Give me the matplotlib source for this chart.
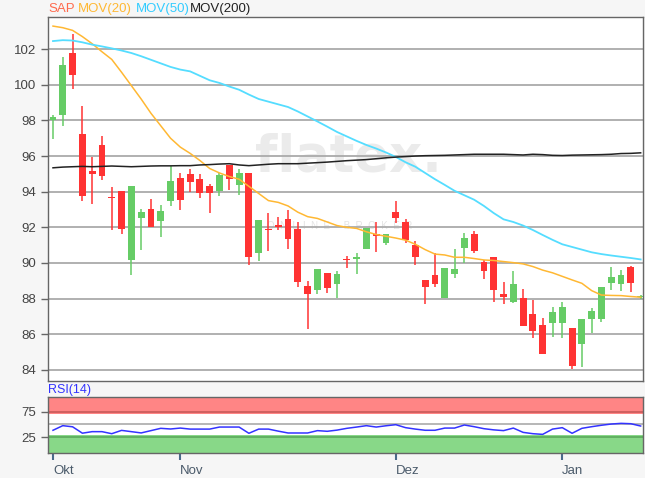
import matplotlib
matplotlib.use('Agg')
import matplotlib.pyplot as plt
import numpy as np

plt.rcParams['font.family'] = ['Liberation Sans', 'DejaVu Sans']

# daily candles (Okt - Jan)
opens = [98.0, 98.28, 101.76, 97.25, 95.14, 96.6, 93.72, 94.02, 90.19, 92.52,
         93.03, 92.34, 93.46, 94.77, 94.99, 94.73, 94.32, 94.04, 95.5, 94.36,
         95.07, 90.54, 91.93, 92.11, 92.45, 91.93, 88.71, 88.49, 89.46, 88.8,
         90.24, 90.21, 90.77, 91.61, 91.1, 92.88, 92.28, 91.01, 89.05, 89.31,
         88.06, 89.36, 90.82, 91.61, 90.07, 90.32, 88.26, 87.83, 88.02, 87.14,
         86.52, 86.62, 86.62, 86.34, 85.46, 86.86, 86.86, 88.9, 88.82, 89.79,
         88.07]
highs = [98.3, 101.55, 102.82, 98.79, 95.93, 97.14, 94.26, 94.02, 94.32, 93.05,
         93.59, 93.27, 95.42, 95.05, 95.27, 94.97, 94.41, 95.07, 95.5, 95.25,
         95.07, 92.39, 92.79, 92.6, 92.97, 92.3, 88.99, 89.64, 89.46, 89.55,
         90.39, 90.54, 91.98, 92.28, 91.65, 93.48, 92.47, 91.23, 89.05, 90.54,
         89.74, 90.79, 91.7, 91.81, 90.17, 90.32, 88.95, 89.55, 88.54, 87.93,
         86.93, 87.51, 87.83, 86.34, 86.84, 87.46, 88.67, 89.79, 89.61, 89.85,
         88.2]
lows = [96.95, 97.7, 99.76, 93.46, 93.33, 94.64, 91.83, 91.64, 89.35, 90.75,
        92.0, 91.46, 93.18, 92.99, 93.98, 93.63, 92.82, 93.76, 94.07, 93.79,
        89.87, 90.13, 90.67, 91.83, 90.8, 88.67, 86.28, 88.24, 88.34, 88.06,
        89.74, 89.36, 90.77, 90.64, 91.0, 92.26, 91.1, 89.89, 87.7, 88.67,
        88.06, 89.14, 89.98, 90.54, 89.08, 87.83, 87.68, 87.74, 86.47, 85.81,
        84.88, 85.87, 85.81, 84.04, 84.19, 86.06, 86.67, 88.49, 88.43, 88.39,
        88.0]
closes = [98.2, 101.12, 100.56, 93.74, 95.0, 94.88, 93.66, 91.91, 94.32, 92.84,
          92.0, 92.9, 94.58, 93.55, 94.54, 93.91, 93.91, 94.92, 94.69, 95.03,
          90.36, 92.39, 91.83, 92.02, 91.33, 88.93, 88.28, 89.64, 88.62, 89.4,
          90.18, 90.32, 91.98, 91.51, 91.61, 92.5, 91.29, 90.36, 88.64, 88.8,
          89.74, 89.66, 91.38, 90.69, 89.55, 88.49, 88.07, 88.8, 86.47, 86.21,
          84.88, 87.23, 87.51, 84.22, 86.84, 87.33, 88.67, 89.2, 89.33, 88.86,
          88.15]

mov20 = [103.29, 103.2, 103.05, 102.7, 102.3, 101.85, 101.42, 100.7, 99.95, 99.2,
         98.4, 97.7, 97.0, 96.5, 96.15, 95.75, 95.3, 95.05, 94.85, 94.7,
         94.3, 93.9, 93.5, 93.4, 93.2, 92.85, 92.6, 92.5, 92.3, 92.1,
         92.0, 91.94, 91.75, 91.6, 91.5, 91.4, 91.28, 91.05, 90.75, 90.5,
         90.45, 90.32, 90.32, 90.25, 90.17, 90.14, 90.08, 90.02, 89.95, 89.8,
         89.6, 89.45, 89.25, 89.05, 88.86, 88.45, 88.2, 88.18, 88.17, 88.12,
         88.08]
mov50 = [102.45, 102.5, 102.48, 102.38, 102.25, 102.15, 102.04, 101.92, 101.78, 101.6,
         101.4, 101.2, 101.0, 100.85, 100.75, 100.5, 100.25, 100.1, 99.9, 99.72,
         99.45, 99.2, 99.05, 98.9, 98.75, 98.5, 98.22, 97.94, 97.65, 97.35,
         97.1, 96.85, 96.62, 96.42, 96.2, 95.95, 95.65, 95.4, 95.05, 94.7,
         94.38, 94.05, 93.8, 93.55, 93.2, 92.8, 92.45, 92.3, 92.1, 91.85,
         91.57, 91.3, 91.05, 90.9, 90.75, 90.6, 90.5, 90.42, 90.35, 90.28,
         90.2]
mov200 = [95.34, 95.38, 95.4, 95.42, 95.4, 95.42, 95.44, 95.42, 95.4, 95.42,
          95.44, 95.45, 95.45, 95.46, 95.46, 95.5, 95.52, 95.55, 95.57, 95.5,
          95.46, 95.5, 95.54, 95.57, 95.57, 95.57, 95.6, 95.63, 95.66, 95.7,
          95.74, 95.77, 95.8, 95.85, 95.9, 95.94, 95.97, 96.0, 96.02, 96.03,
          96.04, 96.06, 96.08, 96.1, 96.1, 96.1, 96.1, 96.08, 96.06, 96.1,
          96.08, 96.04, 96.03, 96.05, 96.06, 96.07, 96.08, 96.1, 96.14, 96.15,
          96.18]
rsi = [38.7, 47.7, 45.5, 33, 36, 36, 32, 38.5, 36, 33.5,
       38, 42.5, 41.2, 43, 41, 41, 41, 45, 45, 45,
       32.8, 41, 41, 37, 33.4, 33.4, 33.4, 38, 36.7, 39,
       42.5, 45, 47.7, 45, 47.5, 49.6, 43.8, 41, 38.7, 38.7,
       43, 43, 49, 45.7, 41.8, 39.5, 38, 43, 34.6, 32,
       30.7, 41, 43.8, 32.8, 42.5, 45.7, 48.5, 50.9, 52.2, 51.5,
       47]

month_pos = [0, 13, 35, 52]
month_labels = ['Okt', 'Nov', 'Dez', 'Jan']
price_ticks = [84, 86, 88, 90, 92, 94, 96, 98, 100, 102]

up_col = '#66cc66'
down_col = '#ff3333'
frame_col = '#666666'
text_col = '#444444'

fig = plt.figure(figsize=(6.45, 4.78), dpi=100, facecolor='#f6f6f6')
ax = fig.add_axes([48 / 645, 1 - 381 / 478, 595 / 645, 364 / 478])
ax_rsi = fig.add_axes([48 / 645, 1 - 453 / 478, 595 / 645, 56 / 478], sharex=ax)

x = np.arange(len(closes))
o = np.array(opens)
c = np.array(closes)
colors = [up_col if cc >= oo else down_col for oo, cc in zip(o, c)]
body_h = np.maximum(np.abs(c - o), 0.07)
body_bottom = np.minimum(o, c)

ax.vlines(x, lows, highs, colors=colors, linewidth=1.1, zorder=3)
ax.bar(x, body_h, bottom=body_bottom, width=0.7, color=colors, zorder=4)

ax.plot(x, mov20, color='#ffb833', linewidth=1.1, zorder=5)
ax.plot(x, mov50, color='#55ddff', linewidth=1.3, zorder=5)
ax.plot(x, mov200, color='#222222', linewidth=1.1, zorder=5)

# watermark
ax.text(0.348, 0.575, 'flatex.', transform=ax.transAxes, fontsize=37,
        fontweight='bold', family='DejaVu Sans', color='#ebebeb', zorder=0.5,
        ha='left', va='baseline')
ax.text(0.368, 0.425, 'O  N  L  I  N  E     B  R  O  K  E  R', transform=ax.transAxes,
        fontsize=7, color='#e4e4e4', zorder=0.5, ha='left', va='center')

ax.set_ylim(83.38, 103.8)
ax.set_xlim(-0.51, 60.24)
ax.set_yticks(price_ticks)
ax.set_yticklabels([str(t) for t in price_ticks])
ax.grid(axis='y', color='#aaaaaa', linewidth=1.3, zorder=1)
ax.set_axisbelow(True)
ax.tick_params(axis='y', colors=frame_col, labelcolor=text_col, labelsize=9.5,
               length=5, width=1)
ax.tick_params(axis='x', bottom=False, labelbottom=False)
ax.set_facecolor('white')
for s in ax.spines.values():
    s.set_color(frame_col)
    s.set_linewidth(1)

fig.text(48 / 645, 1 - 9 / 478, 'SAP', color='#ff6a4d', fontsize=9.5, va='center')
fig.text(78 / 645, 1 - 9 / 478, 'MOV(20)', color='#ffb833', fontsize=9.5, va='center')
fig.text(136 / 645, 1 - 9 / 478, 'MOV(50)', color='#33ccff', fontsize=9.5, va='center')
fig.text(190 / 645, 1 - 9 / 478, 'MOV(200)', color='#222222', fontsize=9.5, va='center')

# RSI panel
ax_rsi.set_ylim(-5.7, 103.7)
ax_rsi.axhspan(70, 103.7, color='#ff8585', zorder=1, linewidth=0)
ax_rsi.axhspan(-5.7, 30, color='#88d888', zorder=1, linewidth=0)
ax_rsi.axhline(75, color='#c85a5a', linewidth=1.2, zorder=2)
ax_rsi.axhline(25, color='#5aaa5a', linewidth=1.2, zorder=2)
ax_rsi.axhline(50, color='#aaaaaa', linewidth=1.2, zorder=2)
ax_rsi.plot(x, rsi, color='#3333ff', linewidth=1.1, zorder=3)
ax_rsi.set_yticks([25, 75])
ax_rsi.set_yticklabels(['25', '75'])
ax_rsi.set_xticks(month_pos)
ax_rsi.set_xticklabels(month_labels, ha='left')
ax_rsi.tick_params(axis='y', colors=frame_col, labelcolor=text_col, labelsize=9.5,
                   length=5, width=1)
ax_rsi.tick_params(axis='x', colors='#4a6a8a', labelcolor='#4a5a6a', labelsize=9.5,
                   length=5, width=1.5, pad=4)
ax_rsi.set_facecolor('white')
for s in ax_rsi.spines.values():
    s.set_color(frame_col)
    s.set_linewidth(1)
fig.text(48 / 645, 1 - 390 / 478, 'RSI(14)', color='#3333ff', fontsize=9, va='center')

fig.savefig('out.png', dpi=100, facecolor=fig.get_facecolor())
